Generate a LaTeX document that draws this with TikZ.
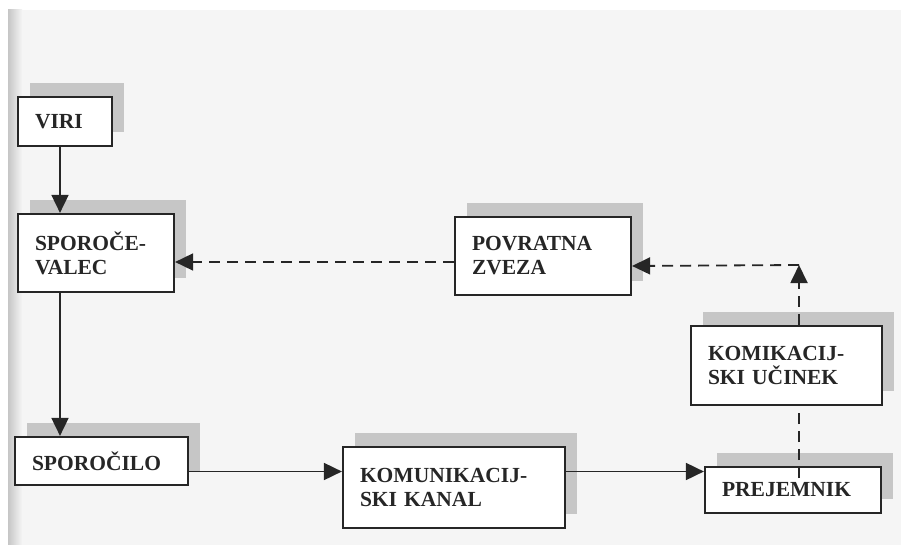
\documentclass[tikz,border=0pt]{standalone}
\usepackage{fontspec}
\setmainfont{Liberation Serif}
\usetikzlibrary{positioning,calc}
\usetikzlibrary{arrows.meta}
\usetikzlibrary{shadows}

\tikzset{
  blk/.style={draw=black!85, line width=2.2pt, fill=white, font=\fontsize{21.5}{24}\selectfont\bfseries,
    align=left, inner xsep=17pt, inner ysep=0pt, text=black!85,
    general shadow={shadow xshift=12pt, shadow yshift=14pt, fill=gray!45, draw=none}},
  arr/.style={line width=1.8pt, draw=black!85, -{Triangle[length=18pt,width=17pt]}},
  darr/.style={arr, dash pattern=on 11pt off 7pt},
}

\begin{document}
\begin{tikzpicture}[x=1pt, y=-1pt, thick]
\useasboundingbox (0,0) rectangle (901,545);
\fill[white] (0,0) rectangle (901,545);
\fill[black!4] (8,10) rectangle (901,545);
\shade[left color=gray!45, right color=black!4] (8,10) rectangle (22,545);

\node[blk, text width=60pt, minimum height=49pt] (viri) at (65,121.5) {VIRI};
\node[blk, text width=122pt, minimum height=78pt] (sporocevalec) at (96,253) {SPOROČE-\\VALEC};
\node[blk, text width=139pt, minimum height=48pt] (sporocilo) at (101.5,461) {SPOROČILO};
\node[blk, text width=188pt, minimum height=81pt] (kanal) at (454,487.5) {KOMUNIKACIJ-\\SKI KANAL};
\node[blk, text width=142pt, minimum height=46pt] (prejemnik) at (793,490) {PREJEMNIK};
\node[blk, text width=157pt, minimum height=79pt] (ucinek) at (786.5,365.5) {KOMIKACIJ-\\SKI UČINEK};
\node[blk, text width=142pt, minimum height=78pt] (povratna) at (543,256) {POVRATNA\\ZVEZA};

\coordinate (lx) at (60,0);
\coordinate (ly) at (0,471.5);
\coordinate (rx) at (799,0);
\coordinate (kot) at (799,265);

% glavna pot
\draw[arr] (viri.south -| lx) -- (sporocevalec.north -| lx);
\draw[arr] (sporocevalec.south -| lx) -- (sporocilo.north -| lx);
\draw[arr] (sporocilo.east |- ly) -- (kanal.west |- ly);
\draw[arr] (kanal.east |- ly) -- (prejemnik.west |- ly);

% povratna zanka
\draw[line width=1.8pt, draw=black!85, dash pattern=on 11pt off 7pt] (799,478) -- (ucinek.south -| rx);
\draw[darr] (ucinek.north -| rx) -- (kot);
\draw[darr] (kot) -- (povratna.east |- 0,266);
\draw[darr] (povratna.west |- 0,262) -- (sporocevalec.east |- 0,262);
\end{tikzpicture}
\end{document}
